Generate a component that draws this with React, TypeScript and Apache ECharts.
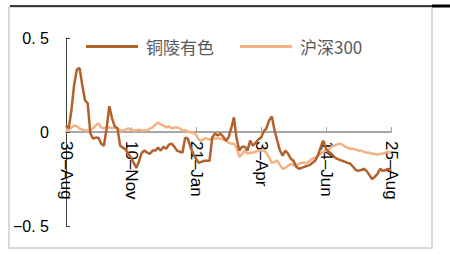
import React, { useEffect, useRef } from "react";
import * as echarts from "echarts";

const START_DATE = Date.UTC(2020, 7, 30);
const STEP_DAYS = 3;
const MONTHS = ["Jan", "Feb", "Mar", "Apr", "May", "Jun", "Jul", "Aug", "Sep", "Oct", "Nov", "Dec"];

const tonglingValues = [
  0.035, 0.019, 0.116, 0.25, 0.331, 0.341, 0.25, 0.169, 0.153, -0.008,
  -0.035, -0.03, -0.03, -0.062, -0.073, 0.019, 0.137, 0.073, 0.03, 0.019,
  -0.073, -0.083, -0.094, -0.116, -0.137, -0.164, -0.191, -0.153, -0.11, -0.099,
  -0.11, -0.116, -0.099, -0.099, -0.083, -0.099, -0.078, -0.089, -0.067, -0.062,
  -0.078, -0.099, -0.105, -0.11, -0.03, -0.035, -0.083, -0.116, -0.142, -0.164,
  -0.159, -0.153, -0.153, -0.153, -0.03, -0.008, -0.019, -0.008, -0.024, -0.046,
  -0.03, 0.019, 0.078, -0.035, -0.099, -0.078, -0.078, -0.099, -0.046, -0.073,
  -0.057, -0.04, -0.03, 0.003, 0.019, 0.062, 0.083, 0.008, -0.046, -0.099,
  -0.126, -0.099, -0.116, -0.142, -0.153, -0.185, -0.196, -0.191, -0.185, -0.18,
  -0.175, -0.164, -0.153, -0.126, -0.083, -0.046, -0.089, -0.105, -0.116, -0.132,
  -0.142, -0.148, -0.153, -0.159, -0.164, -0.169, -0.185, -0.202, -0.207, -0.202,
  -0.196, -0.207, -0.228, -0.25, -0.239, -0.223, -0.196, -0.207, -0.202, -0.196,
  -0.207,
];

const hs300Values = [
  0.003, 0.008, 0.024, 0.035, 0.03, 0.019, 0.013, 0.008, 0.008, 0.013,
  0.019, 0.035, 0.046, 0.024, 0.019, 0.024, 0.024, 0.019, 0.024, 0.019,
  0.008, 0.008, 0.013, 0.019, 0.013, 0.008, 0.008, 0.013, 0.008, 0.008,
  0.008, 0.019, 0.024, 0.04, 0.051, 0.04, 0.035, 0.024, 0.03, 0.019,
  0.024, 0.024, 0.019, 0.008, 0.008, 0.003, -0.003, -0.003, -0.013, -0.04,
  -0.046, -0.035, -0.035, -0.04, -0.035, -0.035, -0.035, -0.035, -0.04, -0.046,
  -0.056, -0.062, -0.062, -0.083, -0.132, -0.116, -0.099, -0.116, -0.11, -0.11,
  -0.105, -0.099, -0.099, -0.099, -0.11, -0.137, -0.164, -0.159, -0.153, -0.175,
  -0.196, -0.191, -0.18, -0.169, -0.175, -0.18, -0.169, -0.164, -0.164, -0.164,
  -0.153, -0.142, -0.137, -0.126, -0.116, -0.105, -0.099, -0.094, -0.078, -0.073,
  -0.067, -0.062, -0.067, -0.078, -0.083, -0.089, -0.089, -0.094, -0.099, -0.099,
  -0.105, -0.11, -0.11, -0.116, -0.116, -0.121, -0.116, -0.116, -0.11, -0.105,
  -0.11,
];

const seriesNames = ["铜陵有色", "沪深300"];
const seriesColors = ["#B2612B", "#F4B183"];
const yTickValues = [-0.5, 0, 0.5];
const yTickLabels = ["\u22120. 5", "0", "0. 5"];

const categories = tonglingValues.map((_, i) => {
  const d = new Date(START_DATE + i * STEP_DAYS * 86400000);
  return `${d.getUTCDate()}\u2013${MONTHS[d.getUTCMonth()]}`;
});

const GRID_TOP = 38;
const GRID_BOTTOM = 29;
const CHART_H = 255;

export default function App() {
  const ref = useRef<HTMLDivElement>(null);
  useEffect(() => {
    if (!ref.current) return;
    const chart = echarts.init(ref.current, undefined, { renderer: "svg" });
    const plotH = CHART_H - GRID_TOP - GRID_BOTTOM;
    const zeroOffset = -(plotH / 2);
    chart.setOption({
      animation: false,
      backgroundColor: "#ffffff",
      grid: { left: 66, right: 59, top: GRID_TOP, bottom: GRID_BOTTOM, containLabel: false, outerBoundsMode: "none" },
      legend: {
        left: 81,
        top: 33,
        icon: "rect",
        itemWidth: 52,
        itemHeight: 3,
        itemGap: 26,
        textStyle: { fontSize: 17, color: "#595959", fontFamily: "Noto Sans CJK SC", padding: [0, 0, 0, 3] },
        data: seriesNames.map((n, i) => ({ name: n, itemStyle: { color: seriesColors[i] } })),
      },
      xAxis: {
        type: "category",
        data: categories,
        boundaryGap: false,
        offset: zeroOffset,
        axisLine: { onZero: false, lineStyle: { color: "#a6a6a6", width: 2 } },
        axisTick: { show: true, inside: true, length: 5, interval: 23, lineStyle: { color: "#a6a6a6", width: 1 } },
        axisLabel: {
          interval: 23,
          rotate: -90,
          margin: 9,
          fontSize: 17,
          color: "#000000",
          fontFamily: "Liberation Sans",
        },
        splitLine: { show: false },
      },
      yAxis: {
        type: "value",
        min: -0.5,
        max: 0.5,
        interval: 0.5,
        axisLine: { show: true, lineStyle: { color: "#404040", width: 1 } },
        axisTick: { show: true, inside: true, length: 4, lineStyle: { color: "#404040" } },
        axisLabel: {
          margin: 17,
          fontSize: 16,
          color: "#000000",
          fontFamily: "Liberation Sans",
          formatter: (v: number) => {
            const idx = yTickValues.findIndex((t) => Math.abs(t - v) < 1e-9);
            return idx >= 0 ? yTickLabels[idx] : "";
          },
        },
        splitLine: { show: false },
      },
      series: [
        {
          name: seriesNames[0],
          type: "line",
          data: tonglingValues,
          symbol: "none",
          z: 3,
          lineStyle: { color: seriesColors[0], width: 2.5 },
          itemStyle: { color: seriesColors[0] },
        },
        {
          name: seriesNames[1],
          type: "line",
          data: hs300Values,
          symbol: "none",
          z: 2,
          lineStyle: { color: seriesColors[1], width: 2.5 },
          itemStyle: { color: seriesColors[1] },
        },
      ],
      graphic: [
        {
          type: "rect",
          shape: { x: 9, y: 7, width: 423, height: 241 },
          style: { fill: "none", stroke: "#d9d9d9", lineWidth: 2 },
          silent: true,
        },
        {
          type: "line",
          shape: { x1: 10, y1: 6, x2: 450, y2: 6 },
          style: { stroke: "#000000", lineWidth: 1.5 },
          silent: true,
        },
        {
          type: "line",
          shape: { x1: 432, y1: 6, x2: 450, y2: 6 },
          style: { stroke: "#000000", lineWidth: 3 },
          silent: true,
        },
      ],
    });
    return () => chart.dispose();
  }, []);
  return (
    <div
      ref={ref}
      style={{ position: "fixed", left: 0, top: 0, width: 450, height: 255 }}
    />
  );
}
